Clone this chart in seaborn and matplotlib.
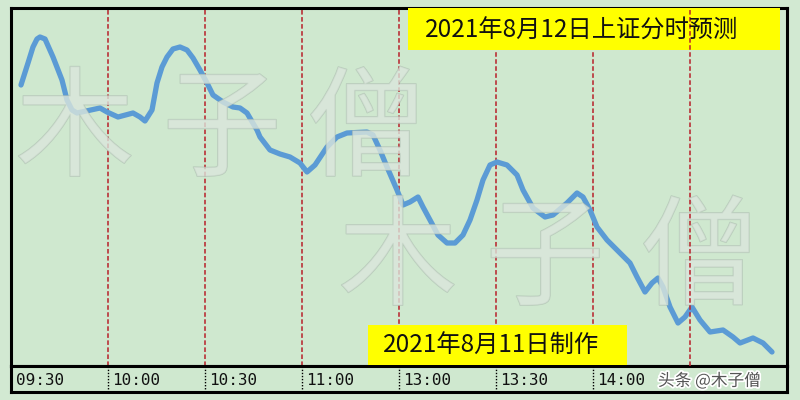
import matplotlib
matplotlib.use("Agg")
import matplotlib.pyplot as plt
import matplotlib.patheffects as pe
from matplotlib.patches import Rectangle
import seaborn as sns
import pandas as pd

# ---- data (trading minutes since 09:30, relative level) ----
minutes = [3.09, 5.26, 6.80, 8.04, 8.97, 10.52, 12.99, 15.77, 17.32, 18.87, 20.41,
           27.53, 29.69, 33.09, 37.73, 39.90, 41.44, 43.61, 45.15, 46.70, 48.25,
           50.10, 52.27, 54.43, 56.29, 58.45, 60.62, 62.47, 65.57, 68.66, 70.83,
           72.99, 76.08, 77.01, 80.10, 83.20, 86.29, 89.38, 91.55, 94.02, 97.73,
           100.83, 103.92, 110.10, 111.96, 114.12, 116.29, 119.38, 121.24, 123.40,
           125.88, 127.42, 129.59, 132.06, 134.85, 137.32, 139.79, 141.96, 144.12,
           145.98, 148.15, 150.31, 153.40, 156.50, 158.35, 161.44, 165.16, 167.63,
           171.96, 175.05, 176.91, 179.08, 181.24, 184.33, 188.35, 191.44, 193.61,
           196.08, 198.25, 200.10, 201.65, 203.82, 206.29, 208.45, 210.62, 213.09,
           216.19, 220.21, 223.30, 225.47, 229.49, 232.58, 235.36]
level = [281, 303, 319, 327, 329, 327, 309, 286, 266, 256, 253,
         258, 254, 249, 253, 249, 245, 256, 283, 299, 309,
         317, 319, 316, 308, 296, 283, 271, 264, 259, 258,
         253, 236, 229, 216, 212, 209, 203, 194, 201, 219,
         229, 233, 234, 231, 216, 199, 176, 161, 164,
         169, 159, 146, 131, 123, 123, 131, 146, 166,
         186, 201, 204, 201, 191, 176, 158, 149, 151,
         163, 173, 169, 156, 139, 126, 113, 103, 89,
         74, 83, 88, 79, 59, 43, 49, 59, 46,
         34, 36, 29, 23, 28, 23, 14]
tick_minutes = [0, 30, 60, 90, 120, 150, 180]
tick_labels = ["09:30", "10:00", "10:30", "11:00", "13:00", "13:30", "14:00"]
grid_minutes = [30, 60, 90, 120, 150, 180, 210]
title_text = "2021年8月12日上证分时预测"
made_text = "2021年8月11日制作"
watermark = "木子僧"
credit = "头条 @木子僧"

df = pd.DataFrame({"minute": minutes, "level": level})

sns.set_theme(style="white")
plt.rcParams["font.family"] = ["Noto Sans CJK SC", "DejaVu Sans"]

bg = "#d2e9d2"
fig = plt.figure(figsize=(8, 4), dpi=100, facecolor=bg)

W, H = 800, 400
rect = [11 / W, 34 / H, 776 / W, 358 / H]
ax = fig.add_axes(rect)
ax.set_facecolor("#cfe8cf")
ax.set_xlim(0, 240)
ax.set_ylim(0, 358)
ax.set_xticks([])
ax.set_yticks([])
for s in ax.spines.values():
    s.set_color("black")
    s.set_linewidth(2.2)

for m in grid_minutes[:-1]:
    ax.axvline(m, color="#b8202a", lw=1.1, ls=(0, (3, 1.6)), zorder=2)

sns.lineplot(data=df, x="minute", y="level", ax=ax, color="#5b9bd5", lw=3.8,
             estimator=None, sort=False, zorder=3,
             solid_joinstyle="round", solid_capstyle="round")
ax.set_xlabel("")
ax.set_ylabel("")

# watermarks (above the line, beneath the yellow boxes), one glyph at a time
wm_effects = [pe.withStroke(linewidth=1.0, foreground="#a6b6aa")]
wm_rows = [([75, 222, 367], 133), ([398, 545, 700], 262)]
for xs, yc in wm_rows:
    for ch, xc in zip(watermark, xs):
        fig.text(xc / W, 1 - yc / H, ch, fontsize=86, color="#dbe6dc", alpha=0.55,
                 ha="center", va="center", path_effects=wm_effects, zorder=0.5)

# overlay axes for yellow boxes, their texts and the last dashed line
ov = fig.add_axes(rect, zorder=1)
ov.set_xlim(0, 240)
ov.set_ylim(0, 358)
ov.axis("off")
ov.patch.set_alpha(0)
ov.add_patch(Rectangle(((408 - 11) / 776, (366 - 50) / 358), (780 - 408) / 776, 42 / 358,
                       transform=ov.transAxes, facecolor="#ffff00", edgecolor="none",
                       zorder=1, clip_on=False))
ov.text((425 - 11) / 776, (366 - 31) / 358, title_text, transform=ov.transAxes,
        ha="left", va="center", fontsize=17.5, color="#111111", zorder=3)
ov.add_patch(Rectangle(((368 - 11) / 776, (366 - 365) / 358), (627 - 368) / 776, 40 / 358,
                       transform=ov.transAxes, facecolor="#ffff00", edgecolor="none",
                       zorder=1, clip_on=False))
ov.text((383 - 11) / 776, (366 - 346) / 358, made_text, transform=ov.transAxes,
        ha="left", va="center", fontsize=17.5, color="#111111", zorder=3)
ov.axvline(grid_minutes[-1], color="#b8202a", lw=1.1, ls=(0, (3, 1.6)), zorder=2)

# tick strip
axt = fig.add_axes([11 / W, 8 / H, 776 / W, 26 / H])
axt.set_facecolor("#cfe8cf")
axt.set_xlim(0, 240)
axt.set_ylim(0, 1)
axt.set_xticks([])
axt.set_yticks([])
for s in axt.spines.values():
    s.set_color("black")
    s.set_linewidth(2.2)
for m in tick_minutes[1:]:
    axt.axvline(m, color="black", lw=1.0, ls=(0, (1, 1.2)))
for m, lab in zip(tick_minutes, tick_labels):
    axt.text(m + 1.4, 0.46, lab, ha="left", va="center", fontsize=11.5,
             family="DejaVu Sans Mono", color="#111111")

fig.text(658 / W, 1 - 381 / H, credit, fontsize=12, color="#555555", ha="left", va="center",
         path_effects=[pe.withStroke(linewidth=2.5, foreground="white")], zorder=10)

fig.savefig("out.png", dpi=100, facecolor=bg)
